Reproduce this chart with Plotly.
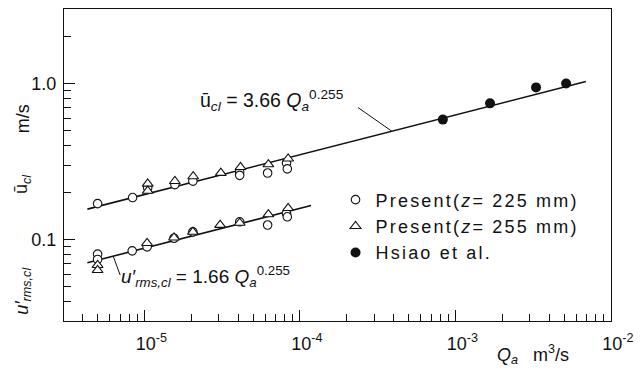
import numpy as np
import plotly.graph_objects as go

# ---------------- data ----------------
# Present measurements, z = 225 mm (open circles)
q225_mean = [5.0e-6, 8.4e-6, 1.05e-5, 1.57e-5, 2.05e-5, 4.1e-5, 4.1e-5, 6.2e-5, 8.2e-5, 8.3e-5]
u225_mean = [0.170, 0.186, 0.215, 0.225, 0.237, 0.271, 0.258, 0.267, 0.309, 0.284]
q225_rms = [5.0e-6, 5.0e-6, 8.35e-6, 1.04e-5, 1.55e-5, 2.05e-5, 4.1e-5, 6.2e-5, 8.2e-5, 8.3e-5]
u225_rms = [0.0807, 0.0746, 0.0847, 0.0898, 0.102, 0.112, 0.130, 0.124, 0.147, 0.140]

# Present measurements, z = 255 mm (open triangles)
q255_mean = [1.05e-5, 1.05e-5, 1.57e-5, 2.06e-5, 3.1e-5, 4.15e-5, 6.27e-5, 8.4e-5]
u255_mean = [0.228, 0.205, 0.237, 0.254, 0.267, 0.291, 0.303, 0.330]
q255_rms = [5.0e-6, 5.0e-6, 1.04e-5, 1.55e-5, 2.05e-5, 3.07e-5, 4.1e-5, 6.27e-5, 8.4e-5]
u255_rms = [0.0687, 0.0637, 0.095, 0.103, 0.112, 0.124, 0.128, 0.145, 0.159]

# Hsiao et al. (filled circles)
q_hsiao = [8.3e-4, 1.67e-3, 3.3e-3, 5.15e-3]
u_hsiao = [0.587, 0.746, 0.944, 1.00]

# correlations  u = C * Qa**n
c_mean, c_rms, n_exp = 3.66, 1.66, 0.255
q_fit_mean = np.array([4.3e-6, 6.9e-3])
q_fit_rms = np.array([4.3e-6, 1.18e-4])

# axis ticks
x_ticks = [1e-5, 1e-4, 1e-3, 1e-2]
x_ticktext = ["10<sup>-5</sup>", "10<sup>-4</sup>", "10<sup>-3</sup>", "10<sup>-2</sup>"]
y_ticks = [0.1, 1.0]
y_ticktext = ["0.1", "1.0"]

# ---------------- figure ----------------
W, H = 642, 369
ML, MR, MT, MB = 64, 22, 8, 48
FONT = "Liberation Sans, Arial, sans-serif"
INK = "#111111"


def px(x):
    return (x - ML) / (W - ML - MR)


def py(y):
    return (H - MB - y) / (H - MT - MB)


def law(c, q):
    return c * np.asarray(q) ** n_exp


def spaced(s):
    return "<span style='letter-spacing:2.2px'>" + s + "</span>"


fig = go.Figure()

fig.add_trace(go.Scatter(x=q_fit_mean, y=law(c_mean, q_fit_mean), mode="lines",
                         line=dict(color=INK, width=1.6), showlegend=False, hoverinfo="skip"))
fig.add_trace(go.Scatter(x=q_fit_rms, y=law(c_rms, q_fit_rms), mode="lines",
                         line=dict(color=INK, width=1.6), showlegend=False, hoverinfo="skip"))

# leader lines from the correlation labels to their curves
q_lead_m = 3.9e-4
fig.add_trace(go.Scatter(x=[2.37e-4, q_lead_m], y=[0.70, float(law(c_mean, q_lead_m))], mode="lines",
                         line=dict(color=INK, width=1), showlegend=False, hoverinfo="skip"))
q_lead_r = 6.3e-6
fig.add_trace(go.Scatter(x=[q_lead_r, 6.98e-6], y=[float(law(c_rms, q_lead_r)), 0.0593], mode="lines",
                         line=dict(color=INK, width=1), showlegend=False, hoverinfo="skip"))

circ = dict(symbol="circle", size=8.5, color="white", line=dict(color=INK, width=1.1))
tri = dict(symbol="triangle-up", size=9.5, color="white", line=dict(color=INK, width=1.1))
dot = dict(symbol="circle", size=10, color=INK, line=dict(color=INK, width=0))

fig.add_trace(go.Scatter(x=q225_mean, y=u225_mean, mode="markers", marker=circ,
                         name=spaced("Present(<i>z</i>= 225 mm)"), legendgroup="p225"))
fig.add_trace(go.Scatter(x=q225_rms, y=u225_rms, mode="markers", marker=circ,
                         legendgroup="p225", showlegend=False))
fig.add_trace(go.Scatter(x=q255_mean, y=u255_mean, mode="markers", marker=tri,
                         name=spaced("Present(<i>z</i>= 255 mm)"), legendgroup="p255"))
fig.add_trace(go.Scatter(x=q255_rms, y=u255_rms, mode="markers", marker=tri,
                         legendgroup="p255", showlegend=False))
fig.add_trace(go.Scatter(x=q_hsiao, y=u_hsiao, mode="markers", marker=dot,
                         name=spaced("Hsiao et al."), legendgroup="hsiao"))

minor_x = [m * 10.0 ** e for e in range(-6, -2) for m in range(2, 10) if 3e-6 < m * 10.0 ** e < 1e-2]
minor_y = [m * 10.0 ** e for e in range(-2, 1) for m in range(2, 10) if 0.031 < m * 10.0 ** e < 2.9]

axis_common = dict(type="log", showline=True, linecolor=INK, linewidth=1.3, mirror=True,
                   ticks="inside", ticklen=11, tickwidth=1.2, tickcolor=INK, showgrid=False,
                   zeroline=False, tickfont=dict(family=FONT, size=18, color=INK), tickmode="array",
                   ticklabeloverflow="allow")

fig.update_xaxes(range=[-5.517, -1.9995], tickvals=x_ticks, ticktext=x_ticktext,
                 ticklabelshift=7, ticklabelstandoff=6,
                 minor=dict(tickmode="array", tickvals=minor_x, ticks="inside", ticklen=7,
                            tickwidth=1, tickcolor=INK, showgrid=False),
                 **axis_common)
fig.update_yaxes(range=[np.log10(0.0301), np.log10(3.0)], tickvals=y_ticks, ticktext=y_ticktext,
                 ticklabelstandoff=3,
                 minor=dict(tickmode="array", tickvals=minor_y, ticks="inside", ticklen=7,
                            tickwidth=1, tickcolor=INK, showgrid=False),
                 **axis_common)

ann = [
    dict(x=px(200), y=py(100), xanchor="left", yanchor="middle",
         text="ū<sub><i>cl</i></sub> = 3.66 <i>Q</i><sub><i>a</i></sub><sup>0.255</sup>", font=dict(size=19.5)),
    dict(x=px(120), y=py(276), xanchor="left", yanchor="middle",
         text="<i>u′</i><sub><i>rms,cl</i></sub> = 1.66 <i>Q</i><sub><i>a</i></sub><sup>0.255</sup>", font=dict(size=19)),
    dict(x=px(502), y=py(355), xanchor="left", yanchor="middle",
         text="<i>Q</i><sub><i>a</i></sub>   m<sup>3</sup>/s", font=dict(size=18)),
    dict(x=px(22), y=py(118), xanchor="center", yanchor="middle", textangle=-90,
         text="m/s", font=dict(size=18)),
    dict(x=px(22), y=py(184), xanchor="center", yanchor="middle", textangle=-90,
         text="ū<sub><i>cl</i></sub>", font=dict(size=18)),
    dict(x=px(22), y=py(291), xanchor="center", yanchor="middle", textangle=-90,
         text="<i>u′</i><sub><i>rms,cl</i></sub>", font=dict(size=18)),
]
for a in ann:
    a.update(xref="paper", yref="paper", showarrow=False)
    a["font"].update(family=FONT, color=INK)

fig.update_layout(
    width=W, height=H, margin=dict(l=ML, r=MR, t=MT, b=MB),
    paper_bgcolor="white", plot_bgcolor="white",
    font=dict(family=FONT, color=INK),
    annotations=ann,
    legend=dict(x=px(340), y=py(181), xanchor="left", yanchor="top",
                bgcolor="rgba(0,0,0,0)", borderwidth=0, tracegroupgap=0,
                font=dict(family=FONT, size=18, color=INK), itemwidth=30),
)

fig.write_html("out.html")
